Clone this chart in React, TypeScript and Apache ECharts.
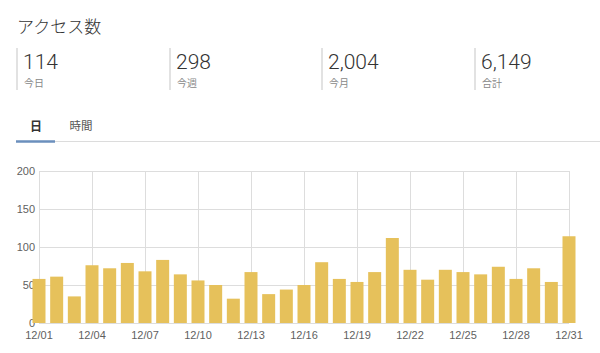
import React, { useEffect, useRef } from "react";
import * as echarts from "echarts";

const days: string[] = [
  "12/01","12/02","12/03","12/04","12/05","12/06","12/07","12/08","12/09","12/10",
  "12/11","12/12","12/13","12/14","12/15","12/16","12/17","12/18","12/19","12/20",
  "12/21","12/22","12/23","12/24","12/25","12/26","12/27","12/28","12/29","12/30","12/31",
];
const visits: number[] = [
  58, 61, 35, 76, 72, 79, 68, 83, 64, 56,
  50, 32, 67, 38, 44, 50, 80, 58, 54, 67,
  112, 70, 57, 70, 67, 64, 74, 58, 72, 54, 114,
];
const statValues: string[] = ["114", "298", "2,004", "6,149"];
const statLabels: string[] = ["今日", "今週", "今月", "合計"];
const tabs: string[] = ["日", "時間"];
const title = "アクセス数";

const JP = "'Noto Sans CJK JP', 'Noto Sans', sans-serif";
const NUM = "'Liberation Sans', 'Noto Sans', sans-serif";
const BIG = "Roboto, 'Liberation Sans', sans-serif";

export default function App() {
  const ref = useRef<HTMLDivElement>(null);
  useEffect(() => {
    if (!ref.current) return;
    const chart = echarts.init(ref.current, undefined, { renderer: "svg" });
    const statX = [17, 170, 322, 475];
    const graphics: any[] = [
      {
        type: "text",
        x: 17,
        y: 25,
        style: { text: title, fontSize: 17, fontWeight: 300, fontFamily: JP, fill: "#333", verticalAlign: "middle" },
      },
    ];
    statValues.forEach((v, i) => {
      const x0 = statX[i];
      graphics.push({
        type: "line",
        shape: { x1: x0, y1: 48, x2: x0, y2: 90 },
        style: { stroke: "#e2e2e2", lineWidth: 2 },
      });
      graphics.push({
        type: "text",
        x: x0 + 6,
        y: 62,
        style: { text: v, fontSize: 21, fontWeight: 300, fontFamily: BIG, fill: "#333", verticalAlign: "middle" },
      });
      graphics.push({
        type: "text",
        x: x0 + 7,
        y: 82.5,
        style: { text: statLabels[i], fontSize: 10, fontFamily: JP, fill: "#888", verticalAlign: "middle" },
      });
    });
    graphics.push({
      type: "text",
      x: 36,
      y: 125,
      style: { text: tabs[0], fontSize: 12, fontWeight: "bold", fontFamily: JP, fill: "#333", align: "center", verticalAlign: "middle" },
    });
    graphics.push({
      type: "text",
      x: 81,
      y: 125,
      style: { text: tabs[1], fontSize: 11.5, fontFamily: JP, fill: "#555", align: "center", verticalAlign: "middle" },
    });
    graphics.push({
      type: "line",
      shape: { x1: 55, y1: 141.5, x2: 600, y2: 141.5 },
      style: { stroke: "#dcdcdc", lineWidth: 1 },
    });
    graphics.push({
      type: "rect",
      shape: { x: 16, y: 140.3, width: 39, height: 2.5 },
      style: { fill: "#6b8fbd" },
    });

    chart.setOption({
      animation: false,
      graphic: graphics,
      grid: { left: 39, right: 31, top: 171, bottom: 30, containLabel: false, outerBoundsMode: "none" },
      xAxis: {
        type: "category",
        data: days,
        boundaryGap: false,
        axisLine: { show: false },
        axisTick: { show: false },
        axisLabel: { interval: 2, color: "#5f5f5f", fontSize: 11, fontFamily: NUM, margin: 6 },
        splitLine: { show: true, interval: 2, lineStyle: { color: "#dddddd", width: 1 } },
      },
      yAxis: {
        type: "value",
        min: 0,
        max: 200,
        interval: 50,
        axisLine: { show: false },
        axisTick: { show: false },
        axisLabel: { color: "#5f5f5f", fontSize: 11, fontFamily: NUM, margin: 4 },
        splitLine: { show: true, lineStyle: { color: "#dddddd", width: 1 } },
      },
      series: [
        {
          type: "bar",
          data: visits,
          barWidth: 13,
          clip: false,
          itemStyle: { color: "#e6c15b" },
        },
      ],
    });
    return () => chart.dispose();
  }, []);
  return (
    <div
      ref={ref}
      style={{ position: "fixed", left: 0, top: 0, width: 600, height: 353, background: "#fff" }}
    />
  );
}
